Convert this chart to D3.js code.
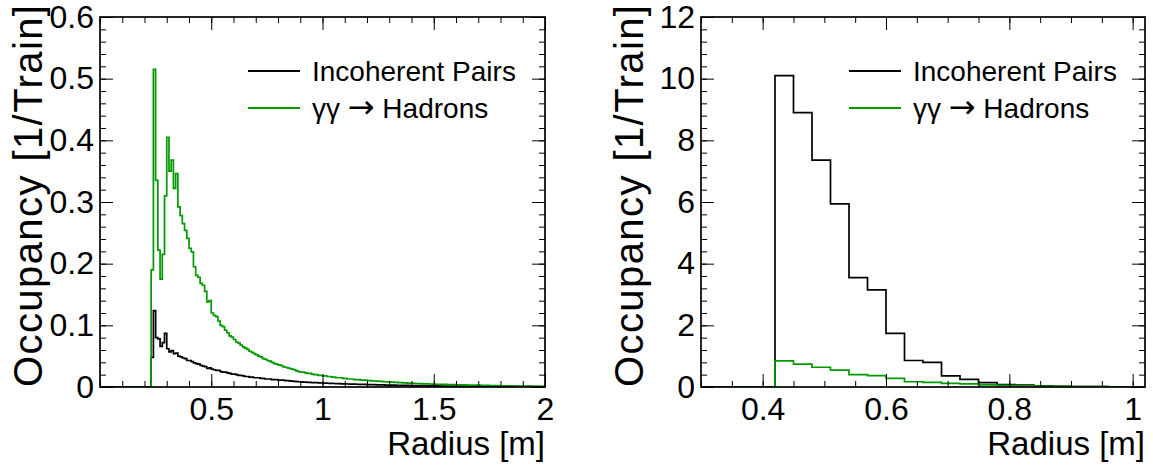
<!DOCTYPE html>
<html>
<head>
<meta charset="utf-8">
<script src="https://cdn.jsdelivr.net/npm/d3@7"></script>
<style>
  body { margin: 0; background: #fff; }
  text { font-family: "Liberation Sans", Arial, sans-serif; fill: #000; }
</style>
</head>
<body>
<script>
'use strict';

// left panel: 0.01 m bins, first filled bin starts at 0.23 m
const leftFirstBin = 0.23
const leftBinWidth = 0.01
const pairsLeft = [
  0.048, 0.124, 0.08, 0.078, 0.066, 0.072, 0.087,
  0.062, 0.057, 0.059, 0.054, 0.055, 0.05, 0.049, 0.047, 0.046, 0.043,
  0.043, 0.041, 0.039, 0.038, 0.037, 0.035, 0.034, 0.033, 0.03, 0.031,
  0.029, 0.028, 0.027, 0.027, 0.025, 0.024, 0.024, 0.023, 0.022, 0.021,
  0.021, 0.02, 0.019, 0.019, 0.018, 0.017, 0.017, 0.016, 0.016, 0.015,
  0.015, 0.015, 0.014, 0.014, 0.013, 0.013, 0.013, 0.012, 0.012, 0.012,
  0.011, 0.011, 0.011, 0.0105, 0.0102, 0.01, 0.0095, 0.009, 0.0088, 0.0085,
  0.0082, 0.008, 0.0078, 0.0076, 0.0074, 0.0072, 0.0071, 0.007, 0.0068, 0.0067,
  0.0065, 0.0063, 0.0061, 0.006, 0.0058, 0.0057, 0.0055, 0.0054, 0.0052, 0.0051,
  0.005, 0.0049, 0.0048, 0.0047, 0.0046, 0.0045, 0.0044, 0.0043, 0.0042, 0.0041,
  0.004, 0.0039, 0.0038, 0.0037, 0.0036, 0.0035, 0.0034, 0.0033, 0.0032, 0.0031,
  0.003, 0.003, 0.0029, 0.0028, 0.0027, 0.0027, 0.0026, 0.0025, 0.0025, 0.0024,
  0.0023, 0.0023, 0.0022, 0.0021, 0.0021, 0.002, 0.002, 0.0019, 0.0019, 0.0018,
  0.0018, 0.0017, 0.0017, 0.0016, 0.0016, 0.0015, 0.0015, 0.0014, 0.0014, 0.0013,
  0.0013, 0.0013, 0.0012, 0.0012, 0.0012, 0.0011, 0.0011, 0.0011, 0.001, 0.001,
  0.001, 0.001, 0.0009, 0.0009, 0.0009, 0.0009, 0.0008, 0.0008, 0.0008, 0.0008,
  0.0007, 0.0007, 0.0007, 0.0007, 0.0007, 0.0006, 0.0006, 0.0006, 0.0006, 0.0006,
  0.0006, 0.0005, 0.0005, 0.0005, 0.0005, 0.0005, 0.0005, 0.0005, 0.0004, 0.0004
]
const hadronsLeft = [
  0.19, 0.515, 0.335, 0.222, 0.175, 0.215, 0.31,
  0.405, 0.35, 0.368, 0.322, 0.346, 0.292, 0.278, 0.265, 0.254, 0.241,
  0.225, 0.219, 0.195, 0.181, 0.178, 0.168, 0.165, 0.155, 0.138, 0.14,
  0.12, 0.116, 0.114, 0.107, 0.1, 0.098, 0.092, 0.088, 0.083, 0.081,
  0.077, 0.073, 0.071, 0.068, 0.065, 0.063, 0.061, 0.058, 0.056, 0.054,
  0.052, 0.05, 0.049, 0.046, 0.045, 0.043, 0.042, 0.04, 0.038, 0.037,
  0.036, 0.035, 0.033, 0.032, 0.031, 0.03, 0.029, 0.028, 0.026, 0.025,
  0.024, 0.024, 0.023, 0.022, 0.022, 0.021, 0.02, 0.02, 0.019, 0.019,
  0.018, 0.018, 0.017, 0.017, 0.016, 0.016, 0.015, 0.015, 0.015, 0.014,
  0.014, 0.013, 0.013, 0.013, 0.012, 0.012, 0.012, 0.011, 0.011, 0.011,
  0.0105, 0.0102, 0.01, 0.0097, 0.0095, 0.0092, 0.009, 0.0088, 0.0085, 0.0083,
  0.008, 0.0078, 0.0076, 0.0074, 0.0072, 0.007, 0.0068, 0.0066, 0.0064, 0.0062,
  0.006, 0.0058, 0.0057, 0.0055, 0.0054, 0.0052, 0.0051, 0.005, 0.0049, 0.0047,
  0.0046, 0.0045, 0.0044, 0.0043, 0.0042, 0.0041, 0.004, 0.0039, 0.0038, 0.0037,
  0.0036, 0.0035, 0.0034, 0.0034, 0.0033, 0.0032, 0.0032, 0.0031, 0.003, 0.003,
  0.0029, 0.0028, 0.0027, 0.0026, 0.0025, 0.0024, 0.0023, 0.0022, 0.0022, 0.0021,
  0.002, 0.0019, 0.0019, 0.0018, 0.0017, 0.0017, 0.0016, 0.0016, 0.0015, 0.0015,
  0.0014, 0.0014, 0.0013, 0.0013, 0.0012, 0.0012, 0.0011, 0.0011, 0.001, 0.001
]

// right panel: 0.03 m bins, first filled bin starts at 0.42 m
const rightFirstBin = 0.42
const rightBinWidth = 0.03
const pairsRight = [10.1, 8.9, 7.36, 5.94, 3.55, 3.15, 1.74, 0.86, 0.8, 0.36,
  0.25, 0.14, 0.08, 0.06, 0.04, 0.025, 0.015, 0.01, 0.006, 0.004]
const hadronsRight = [0.85, 0.74, 0.64, 0.55, 0.40, 0.37, 0.28, 0.17, 0.15, 0.12,
  0.10, 0.07, 0.05, 0.04, 0.03, 0.02, 0.015, 0.01, 0.006, 0.004]

const leftXTicks = [0.5, 1, 1.5, 2]
const leftYTicks = [0, 0.1, 0.2, 0.3, 0.4, 0.5, 0.6]
const rightXTicks = [0.4, 0.6, 0.8, 1]
const rightYTicks = [0, 2, 4, 6, 8, 10, 12]

const legendLabels = ["Incoherent Pairs", "\u03b3\u03b3 \u2192 Hadrons"]
const xTitle = "Radius [m]"
const yTitle = "Occupancy [1/Train]"

const colPairs = "#000000"
const colHadrons = "#009900"

const m = {
  width: 1153,
  height: 466,
  top: 17,
  bottom: 387
}

const svg = d3.select('body')
  .append('svg')
  .attr('width', m.width)
  .attr('height', m.height)

drawPanel({
  id: 'left',
  left: 100, right: 545,
  xDomain: [0, 2], yDomain: [0, 0.6],
  xTicks: leftXTicks, xMinor: d3.range(0, 2.001, 0.1),
  yTicks: leftYTicks, yMinor: d3.range(0, 0.6001, 0.02),
  xFormat: (d) => String(d),
  yFormat: (d) => d === 0 ? "0" : d3.format(".1f")(d),
  first: leftFirstBin, width: leftBinWidth,
  series: [pairsLeft, hadronsLeft]
})

drawPanel({
  id: 'right',
  left: 701, right: 1145,
  xDomain: [0.3, 1.02], yDomain: [0, 12],
  xTicks: rightXTicks, xMinor: d3.range(0.3, 1.0201, 0.05),
  yTicks: rightYTicks, yMinor: d3.range(0, 12.001, 0.4),
  xFormat: (d) => String(d),
  yFormat: (d) => String(d),
  first: rightFirstBin, width: rightBinWidth,
  series: [pairsRight, hadronsRight]
})

function drawPanel(p) {
  const x = d3.scaleLinear().domain(p.xDomain).range([p.left, p.right])
  const y = d3.scaleLinear().domain(p.yDomain).range([m.bottom, m.top])
  const g = svg.append('g').attr('id', p.id)

  g.append('clipPath').attr('id', 'clip-' + p.id)
    .append('rect')
    .attr('x', p.left).attr('y', m.top)
    .attr('width', p.right - p.left).attr('height', m.bottom - m.top)

  // histograms
  const colors = [colPairs, colHadrons]
  p.series.forEach((vals, k) => {
    let pts = [[p.xDomain[0], 0], [p.first, 0]]
    vals.forEach((v, i) => {
      pts.push([p.first + i * p.width, v])
      pts.push([p.first + (i + 1) * p.width, v])
    })
    const end = p.first + vals.length * p.width
    if (end < p.xDomain[1] - 1e-9) {
      pts.push([end, 0])
      pts.push([p.xDomain[1], 0])
    }
    g.append('path')
      .attr('clip-path', 'url(#clip-' + p.id + ')')
      .attr('d', d3.line().x((d) => x(d[0])).y((d) => y(d[1]))(pts))
      .style('fill', 'none')
      .style('stroke', colors[k])
      .style('stroke-width', 1.7)
  })

  // ticks
  const major = 13, minor = 6
  const axes = [
    [d3.axisBottom(x).tickValues(p.xTicks).tickSize(-major).tickPadding(10).tickFormat(p.xFormat), 'translate(0,' + m.bottom + ')'],
    [d3.axisBottom(x).tickValues(p.xMinor).tickSize(-minor).tickFormat(''), 'translate(0,' + m.bottom + ')'],
    [d3.axisTop(x).tickValues(p.xTicks).tickSize(-major).tickFormat(''), 'translate(0,' + m.top + ')'],
    [d3.axisTop(x).tickValues(p.xMinor).tickSize(-minor).tickFormat(''), 'translate(0,' + m.top + ')'],
    [d3.axisLeft(y).tickValues(p.yTicks).tickSize(-major).tickPadding(6).tickFormat(p.yFormat), 'translate(' + p.left + ',0)'],
    [d3.axisLeft(y).tickValues(p.yMinor).tickSize(-minor).tickFormat(''), 'translate(' + p.left + ',0)'],
    [d3.axisRight(y).tickValues(p.yTicks).tickSize(-major).tickFormat(''), 'translate(' + p.right + ',0)'],
    [d3.axisRight(y).tickValues(p.yMinor).tickSize(-minor).tickFormat(''), 'translate(' + p.right + ',0)']
  ]
  axes.forEach(([ax, tr]) => {
    const a = g.append('g').attr('transform', tr).call(ax)
    a.select('.domain').remove()
    a.selectAll('line').style('stroke', '#000').style('stroke-width', 1)
    a.selectAll('text')
      .style('font-family', '"Liberation Sans", Arial, sans-serif')
      .style('font-size', '32px')
      .style('fill', '#000')
  })

  // frame
  g.append('rect')
    .attr('x', p.left).attr('y', m.top)
    .attr('width', p.right - p.left).attr('height', m.bottom - m.top)
    .style('fill', 'none')
    .style('stroke', '#000')
    .style('stroke-width', 1.7)

  // legend
  const lx = p.left + 148
  legendLabels.forEach((lab, k) => {
    const ly = 71 + k * 37
    g.append('line')
      .attr('x1', lx).attr('x2', lx + 52)
      .attr('y1', ly).attr('y2', ly)
      .style('stroke', colors[k])
      .style('stroke-width', 1.8)
    const t = g.append('text')
      .attr('x', lx + 64).attr('y', ly)
      .attr('dy', '0.36em')
      .style('font-size', '28px')
    if (k === 1) {
      t.append('tspan').text('\u03b3\u03b3 ')
      t.append('tspan').style('font-family', '"DejaVu Sans"').style('font-size', '32px').text('\u2192')
      t.append('tspan').text(' Hadrons')
    } else {
      t.text(lab)
    }
  })

  // titles
  g.append('text')
    .attr('x', p.right).attr('y', 455)
    .attr('text-anchor', 'end')
    .style('font-size', '33px')
    .text(xTitle)

  g.append('text')
    .attr('transform', 'translate(' + (p.left - 58) + ',5)rotate(-90)')
    .attr('text-anchor', 'end')
    .attr('textLength', 382)
    .attr('lengthAdjust', 'spacing')
    .style('font-size', '40px')
    .text(yTitle)
}
</script>
</body>
</html>
